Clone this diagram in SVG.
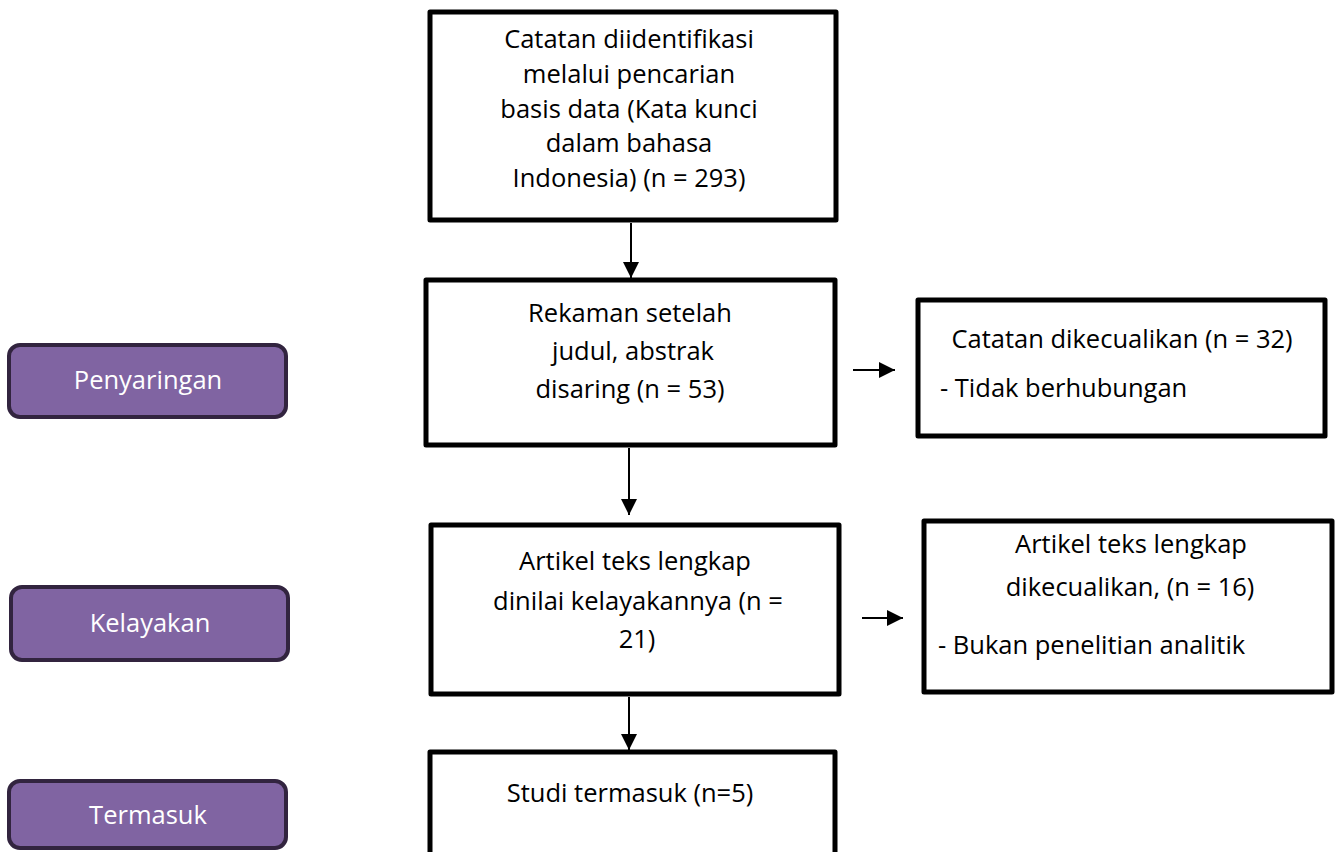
<svg xmlns="http://www.w3.org/2000/svg" width="1338" height="852" viewBox="0 0 1338 852">
<defs>
<style>
.box{fill:#fff;stroke:#000;stroke-width:5;stroke-linejoin:round}
.stage{fill:#8064a2;stroke:#32243f;stroke-width:4}
.t{font-family:"Open Sans","Liberation Sans",sans-serif;font-size:25.5px;fill:#000}
.c{text-anchor:middle}
.w{fill:#fff}
.conn{stroke:#000;stroke-width:2;fill:none}
</style>
<marker id="ah" markerUnits="userSpaceOnUse" markerWidth="16" markerHeight="16" viewBox="0 0 16 16" refX="16" refY="8" orient="auto">
<path d="M0,0 L16,8 L0,16 Z" fill="#000"/>
</marker>
</defs>
<rect width="1338" height="852" fill="#fff"/>
<g id="stage-penyaringan">
<rect class="stage" x="9" y="345" width="277" height="72" rx="11"/>
<text class="t c w" x="148" y="389">Penyaringan</text>
</g>
<g id="stage-kelayakan">
<rect class="stage" x="11" y="587" width="277" height="73" rx="11"/>
<text class="t c w" x="150" y="632">Kelayakan</text>
</g>
<g id="stage-termasuk">
<rect class="stage" x="9" y="781" width="277" height="67" rx="11"/>
<text class="t c w" x="148" y="824">Termasuk</text>
</g>
<g id="identified">
<rect class="box" x="430" y="12" width="406" height="208"/>
<text class="t c" x="629" y="48">Catatan diidentifikasi</text>
<text class="t c" x="629" y="83">melalui pencarian</text>
<text class="t c" x="629" y="118">basis data (Kata kunci</text>
<text class="t c" x="629" y="152">dalam bahasa</text>
<text class="t c" x="629" y="187">Indonesia) (n = 293)</text>
</g>
<g id="screened">
<rect class="box" x="426" y="280" width="409" height="165"/>
<text class="t c" x="630" y="322">Rekaman setelah</text>
<text class="t c" x="633" y="360">judul, abstrak</text>
<text class="t c" x="630" y="398">disaring (n = 53)</text>
</g>
<g id="excluded-records">
<rect class="box" x="918" y="300" width="407" height="136"/>
<text class="t c" x="1122" y="348">Catatan dikecualikan (n = 32)</text>
<text class="t" x="940" y="397">- Tidak berhubungan</text>
</g>
<g id="fulltext">
<rect class="box" x="431" y="525" width="408" height="169"/>
<text class="t c" x="635" y="570">Artikel teks lengkap</text>
<text class="t c" x="638" y="610">dinilai kelayakannya (n =</text>
<text class="t c" x="637" y="648">21)</text>
</g>
<g id="excluded-fulltext">
<rect class="box" x="924" y="521" width="408" height="171"/>
<text class="t c" x="1131" y="553">Artikel teks lengkap</text>
<text class="t c" x="1130" y="596">dikecualikan, (n = 16)</text>
<text class="t" x="938" y="654">- Bukan penelitian analitik</text>
</g>
<g id="included">
<rect class="box" x="430" y="752" width="405" height="120"/>
<text class="t c" x="630" y="802">Studi termasuk (n=5)</text>
</g>
<g id="connectors">
<line class="conn" x1="631" y1="223" x2="631" y2="278" marker-end="url(#ah)"/>
<line class="conn" x1="629" y1="448" x2="629" y2="515" marker-end="url(#ah)"/>
<line class="conn" x1="629" y1="697" x2="629" y2="750" marker-end="url(#ah)"/>
<line class="conn" x1="853" y1="370" x2="895" y2="370" marker-end="url(#ah)"/>
<line class="conn" x1="862" y1="618" x2="903" y2="618" marker-end="url(#ah)"/>
</g>
</svg>
